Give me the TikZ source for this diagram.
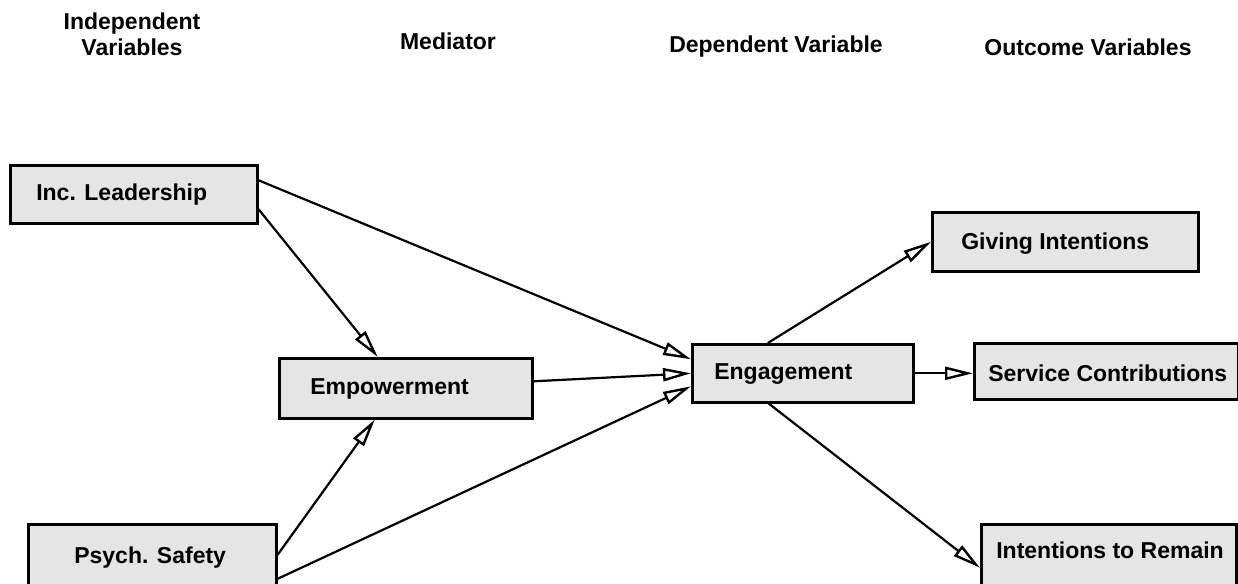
\documentclass[tikz,border=0pt]{standalone}
\usepackage{fontspec}
\setmainfont{Liberation Sans}
\usetikzlibrary{arrows.meta}
\definecolor{boxfill}{RGB}{229,229,229}
\tikzset{
  varbox/.style={draw=black, line width=2.6pt, fill=boxfill, inner ysep=0pt,
    anchor=north west, font=\fontsize{23}{26}\selectfont\bfseries},
  hdr/.style={font=\fontsize{23}{26}\selectfont\bfseries, inner sep=0pt},
  path/.style={draw=black, line width=2.2pt,
    -{Triangle[open, length=28pt, width=13pt, line width=2.4pt]}}
}
% #1 name, #2 left/top corner, #3 text box width, #4 side padding,
% #5 height above baseline, #6 depth below baseline, #7 label
\newcommand\varnode[7]{%
  \node[varbox, inner xsep=#4pt, text height=#5pt, text depth=#6pt] (#1) at (#2)
    {\makebox[#3pt][l]{#7}};}
\begin{document}
\begin{tikzpicture}[x=1pt, y=-1pt]
\useasboundingbox (0,0) rectangle (1238,583);

% column headings (a two-line node sits on the baseline of its last line)
\node[hdr, align=center, anchor=base] (hind) at (132,56) {Independent\\Variables};
\node[hdr, anchor=base] (hmed) at (448,50) {Mediator};
\node[hdr, anchor=base] (hdep) at (776,53) {Dependent Variable};
\node[hdr, anchor=base] (hout) at (1088,56) {Outcome Variables};

% variables
\varnode{lead}{9,164}{195}{26}{35}{23}{Inc. Leadership}
\varnode{emp}{278,357}{191}{31}{36}{24}{Empowerment}
\varnode{psych}{27,523}{156}{46}{39}{26}{Psych. Safety}
\varnode{eng}{691,343}{177}{22}{35}{23}{Engagement}
\varnode{give}{931,211}{208}{29}{37}{22}{Giving Intentions}
\varnode{serv}{973,342}{236}{14}{38}{18}{Service Contributions}
\varnode{remain}{980,523}{225}{15}{34}{33}{Intentions to Remain}

% paths
\draw[path] ([yshift=14pt]lead.east) -- ([yshift=14pt]eng.west);
\draw[path] ([yshift=-15pt]lead.east) -- ([xshift=-28pt]emp.north);
\draw[path] ([yshift=2pt]psych.east) -- ([xshift=-31pt]emp.south);
\draw[path] ([yshift=-22pt]psych.east) -- ([yshift=-13pt]eng.west);
\draw[path] ([yshift=7pt]emp.east) -- (eng.west);
\draw[path] ([xshift=-35pt]eng.north) -- (give.west);
\draw[path] (eng.east) -- (eng.east -| serv.west);
\draw[path] ([xshift=-34pt]eng.south) -- ([yshift=-10pt]remain.west);
\end{tikzpicture}
\end{document}
